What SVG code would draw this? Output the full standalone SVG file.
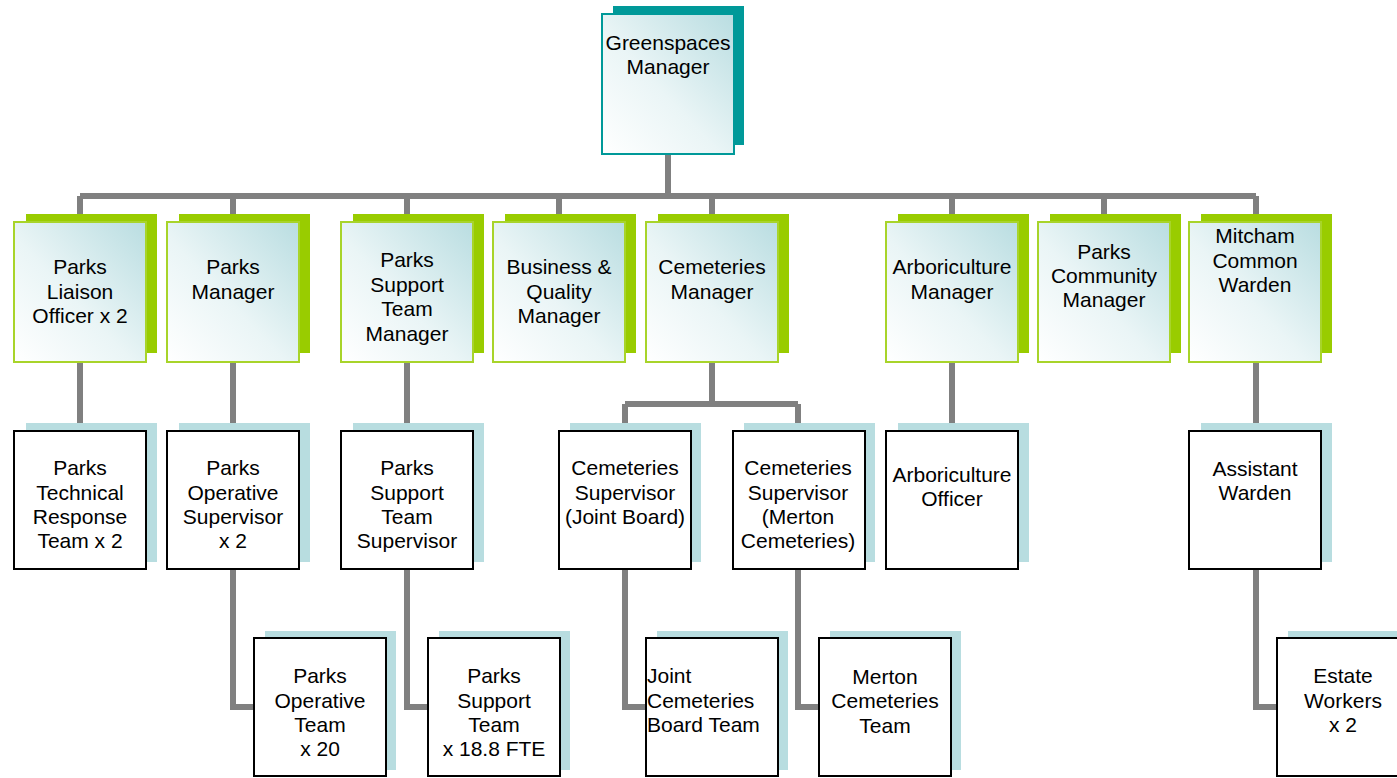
<svg xmlns="http://www.w3.org/2000/svg" width="1397" height="778" viewBox="0 0 1397 778">
<defs>
<linearGradient id="g" x1="1" y1="0" x2="0" y2="1">
<stop offset="0" stop-color="#b9dde1"/>
<stop offset="0.55" stop-color="#eaf5f6"/>
<stop offset="1" stop-color="#ffffff"/>
</linearGradient>
<style>
text{font-family:"Liberation Sans",Arial,sans-serif;font-size:21px;fill:#000;text-anchor:middle}
.ts{fill:#009999}
.tb{fill:url(#g);stroke:#009999;stroke-width:2}
.ms{fill:#99cc00}
.mb{fill:url(#g);stroke:#a8d42a;stroke-width:2}
.ls{fill:#b8dde0}
.lb{fill:#ffffff;stroke:#000;stroke-width:2}
.c{fill:none;stroke:#808080;stroke-width:6}
</style>
</defs>
<rect width="1397" height="778" fill="#ffffff"/>
<g id="connectors">
<path class="c" d="M668 154V196M80 196H1256M80 196V222M233 196V222M407 196V222M559 196V222M712 196V222M952 196V222M1104 196V222M1256 196V222"/>
<path class="c" d="M80 362V431M233 362V431M407 362V431M952 362V431M1256 362V431"/>
<path class="c" d="M712 362V404M625 404H798M625 404V431M798 404V431"/>
<path class="c" d="M233 569V707H254M407 569V707H428M625 569V707H646M798 569V707H819M1256 569V707H1277"/>
</g>
<g id="greenspaces-manager"><rect class="ts" x="613" y="6" width="131" height="139"/><rect class="tb" x="602" y="14" width="132" height="140"/><text x="668"><tspan x="668" y="50">Greenspaces</tspan><tspan x="668" y="74">Manager</tspan></text></g>

<g id="parks-liaison"><rect class="ms" x="26" y="214" width="131" height="139"/><rect class="mb" x="14" y="222" width="132" height="140"/><text><tspan x="80" y="274">Parks</tspan><tspan x="80" y="299">Liaison</tspan><tspan x="80" y="323">Officer x 2</tspan></text></g>
<g id="parks-manager"><rect class="ms" x="179" y="214" width="131" height="139"/><rect class="mb" x="167" y="222" width="132" height="140"/><text><tspan x="233" y="274">Parks</tspan><tspan x="233" y="299">Manager</tspan></text></g>
<g id="parks-support-team-manager"><rect class="ms" x="353" y="214" width="131" height="139"/><rect class="mb" x="341" y="222" width="132" height="140"/><text><tspan x="407" y="267">Parks</tspan><tspan x="407" y="292">Support</tspan><tspan x="407" y="316">Team</tspan><tspan x="407" y="341">Manager</tspan></text></g>
<g id="business-quality-manager"><rect class="ms" x="505" y="214" width="131" height="139"/><rect class="mb" x="493" y="222" width="132" height="140"/><text><tspan x="559" y="274">Business &amp;</tspan><tspan x="559" y="299">Quality</tspan><tspan x="559" y="323">Manager</tspan></text></g>
<g id="cemeteries-manager"><rect class="ms" x="658" y="214" width="131" height="139"/><rect class="mb" x="646" y="222" width="132" height="140"/><text><tspan x="712" y="274">Cemeteries</tspan><tspan x="712" y="299">Manager</tspan></text></g>
<g id="arboriculture-manager"><rect class="ms" x="898" y="214" width="131" height="139"/><rect class="mb" x="886" y="222" width="132" height="140"/><text><tspan x="952" y="274">Arboriculture</tspan><tspan x="952" y="299">Manager</tspan></text></g>
<g id="parks-community-manager"><rect class="ms" x="1050" y="214" width="131" height="139"/><rect class="mb" x="1038" y="222" width="132" height="140"/><text><tspan x="1104" y="259">Parks</tspan><tspan x="1104" y="283">Community</tspan><tspan x="1104" y="307">Manager</tspan></text></g>
<g id="mitcham-common-warden"><rect class="ms" x="1201" y="214" width="131" height="139"/><rect class="mb" x="1189" y="222" width="132" height="140"/><text><tspan x="1255" y="243">Mitcham</tspan><tspan x="1255" y="268">Common</tspan><tspan x="1255" y="292">Warden</tspan></text></g>

<g id="parks-technical-response"><rect class="ls" x="26" y="423" width="131" height="139"/><rect class="lb" x="14" y="431" width="132" height="138"/><text><tspan x="80" y="475">Parks</tspan><tspan x="80" y="500">Technical</tspan><tspan x="80" y="524">Response</tspan><tspan x="80" y="548">Team x 2</tspan></text></g>
<g id="parks-operative-supervisor"><rect class="ls" x="179" y="423" width="131" height="139"/><rect class="lb" x="167" y="431" width="132" height="138"/><text><tspan x="233" y="475">Parks</tspan><tspan x="233" y="500">Operative</tspan><tspan x="233" y="524">Supervisor</tspan><tspan x="233" y="548">x 2</tspan></text></g>
<g id="parks-support-team-supervisor"><rect class="ls" x="353" y="423" width="131" height="139"/><rect class="lb" x="341" y="431" width="132" height="138"/><text><tspan x="407" y="475">Parks</tspan><tspan x="407" y="500">Support</tspan><tspan x="407" y="524">Team</tspan><tspan x="407" y="548">Supervisor</tspan></text></g>
<g id="cemeteries-supervisor-joint"><rect class="ls" x="570" y="423" width="131" height="139"/><rect class="lb" x="559" y="431" width="132" height="138"/><text><tspan x="625" y="475">Cemeteries</tspan><tspan x="625" y="500">Supervisor</tspan><tspan x="625" y="524">(Joint Board)</tspan></text></g>
<g id="cemeteries-supervisor-merton"><rect class="ls" x="744" y="423" width="131" height="139"/><rect class="lb" x="733" y="431" width="132" height="138"/><text><tspan x="798" y="475">Cemeteries</tspan><tspan x="798" y="500">Supervisor</tspan><tspan x="798" y="524">(Merton</tspan><tspan x="798" y="548">Cemeteries)</tspan></text></g>
<g id="arboriculture-officer"><rect class="ls" x="898" y="423" width="131" height="139"/><rect class="lb" x="886" y="431" width="132" height="138"/><text><tspan x="952" y="482">Arboriculture</tspan><tspan x="952" y="506">Officer</tspan></text></g>
<g id="assistant-warden"><rect class="ls" x="1201" y="423" width="131" height="139"/><rect class="lb" x="1189" y="431" width="132" height="138"/><text><tspan x="1255" y="476">Assistant</tspan><tspan x="1255" y="500">Warden</tspan></text></g>

<g id="parks-operative-team"><rect class="ls" x="265" y="631" width="131" height="139"/><rect class="lb" x="254" y="638" width="132" height="138"/><text><tspan x="320" y="683">Parks</tspan><tspan x="320" y="708">Operative</tspan><tspan x="320" y="732">Team</tspan><tspan x="320" y="756">x 20</tspan></text></g>
<g id="parks-support-team"><rect class="ls" x="439" y="631" width="131" height="139"/><rect class="lb" x="428" y="638" width="132" height="138"/><text><tspan x="494" y="683">Parks</tspan><tspan x="494" y="708">Support</tspan><tspan x="494" y="732">Team</tspan><tspan x="494" y="756">x 18.8 FTE</tspan></text></g>
<g id="joint-cemeteries-board-team"><rect class="ls" x="657" y="631" width="131" height="139"/><rect class="lb" x="646" y="638" width="132" height="138"/><text style="text-anchor:start"><tspan x="647" y="683">Joint</tspan><tspan x="647" y="708">Cemeteries</tspan><tspan x="647" y="732">Board Team</tspan></text></g>
<g id="merton-cemeteries-team"><rect class="ls" x="830" y="631" width="131" height="139"/><rect class="lb" x="819" y="638" width="132" height="138"/><text><tspan x="885" y="684">Merton</tspan><tspan x="885" y="708">Cemeteries</tspan><tspan x="885" y="733">Team</tspan></text></g>
<g id="estate-workers"><rect class="ls" x="1288" y="631" width="131" height="139"/><rect class="lb" x="1277" y="638" width="132" height="138"/><text><tspan x="1343" y="683">Estate</tspan><tspan x="1343" y="708">Workers</tspan><tspan x="1343" y="732">x 2</tspan></text></g>
</svg>
